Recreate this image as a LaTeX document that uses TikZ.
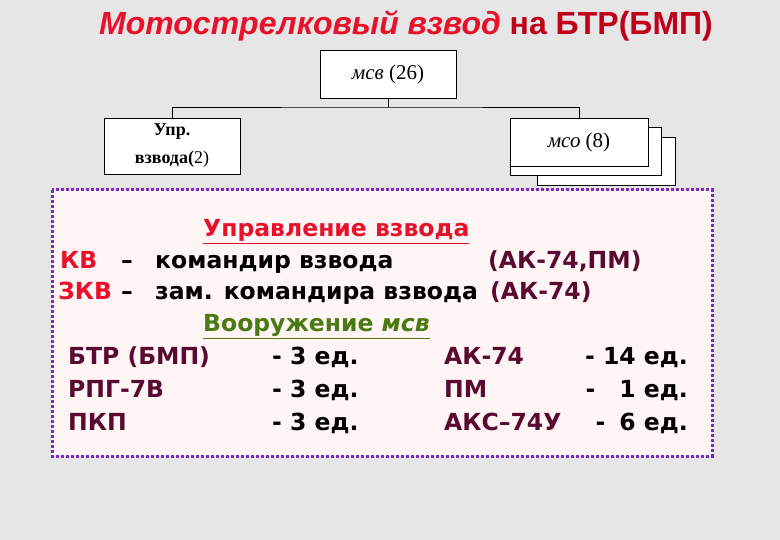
\documentclass[tikz,border=0pt]{standalone}
\usepackage{fontspec}
\setmainfont{Liberation Serif}
\newfontfamily\tah{DejaVu Sans}
\newfontfamily\ars{Liberation Sans}
\definecolor{bg}{HTML}{E6E6E6}
\definecolor{tred}{HTML}{E8102A}
\definecolor{dred}{HTML}{C00018}
\definecolor{maroon}{HTML}{5A0A30}
\definecolor{grn}{HTML}{4A7A12}
\definecolor{frm}{HTML}{7A2AC8}
\begin{document}
\begin{tikzpicture}[x=1pt,y=-1pt,
  orgbox/.style={draw=black,fill=white,line width=0.8pt},
  txt/.style={font=\tah\bfseries\fontsize{23.5}{26}\selectfont,anchor=base west,inner sep=0pt},
  ln/.style={line width=0.8pt}]
\fill[bg] (0,0) rectangle (780,540);
\useasboundingbox (0,0) rectangle (780,540);
\node[font=\ars\bfseries\fontsize{32}{35}\selectfont,anchor=base] (title) at (406,35)
  {\textcolor{tred}{\textit{Мотострелковый взвод}} \textcolor{dred}{на БТР(БМП)}};
\node[orgbox,minimum width=136pt,minimum height=48pt,font=\fontsize{21}{24}\selectfont] (msv) at (388,74) {\textit{мсв} (26)};
\node[orgbox,minimum width=136pt,minimum height=56pt,align=center,font=\bfseries\fontsize{18}{28}\selectfont] (upr) at (172,146) {Упр.\\ взвода(\mdseries 2)};
\node[orgbox,minimum width=138pt,minimum height=48pt] (ms3) at (606,161) {};
\node[orgbox,minimum width=151pt,minimum height=48pt] (ms2) at (585.5,151) {};
\node[orgbox,minimum width=138pt,minimum height=48pt,font=\fontsize{21}{24}\selectfont] (ms1) at (579,142) {\textit{мсо} (8)};
\coordinate (j) at (388,107);
\draw[ln] (msv.south) -- (j);
\draw[ln] (upr.north) |- (j) -| (ms1.north);
% frame
\draw[frm,fill=white!96!red,line width=3pt,dotted] (52,190) rectangle (712,456);
\node[txt,text=tred] (h1) at (203,237) {\underline{Управление взвода}};
\node[txt,text=tred] (kv) at (60,269) {КВ};
\node[txt] (d1) at (121,269) {–};
\node[txt] (kv2) at (155,269) {командир взвода};
\node[txt,text=maroon] (kv3) at (488,269) {(АК-74,ПМ)};
\node[txt,text=tred] (zkv) at (58,300) {ЗКВ};
\node[txt] (d2) at (121,300) {–};
\node[txt] (zkv2) at (155,300) {зам. командира взвода};
\node[txt,text=maroon] (zkv3) at (490,300) {(АК-74)};
\node[txt,text=grn] (h2) at (203,332) {\underline{Вооружение \textit{мсв}}};
\node[txt,text=maroon] (a1) at (68,365) {БТР (БМП)};
\node[txt] (a2) at (272,365) {- 3 ед.};
\node[txt,text=maroon] (a3) at (444,365) {АК-74};
\node[txt,anchor=base east] (a4) at (688,365) {- 14 ед.};
\node[txt,text=maroon] (b1) at (68,397) {РПГ-7В};
\node[txt] (b2) at (272,397) {- 3 ед.};
\node[txt,text=maroon] (b3) at (444,397) {ПМ};
\node[txt,anchor=base east] (b4) at (688,397) {-\hspace{24pt}1 ед.};
\node[txt,text=maroon] (c1) at (68,430) {ПКП};
\node[txt] (c2) at (272,430) {- 3 ед.};
\node[txt,text=maroon] (c3) at (444,430) {АКС–74У};
\node[txt,anchor=base east] (c4) at (688,430) {-\hspace{14pt}6 ед.};
\end{tikzpicture}
\end{document}
